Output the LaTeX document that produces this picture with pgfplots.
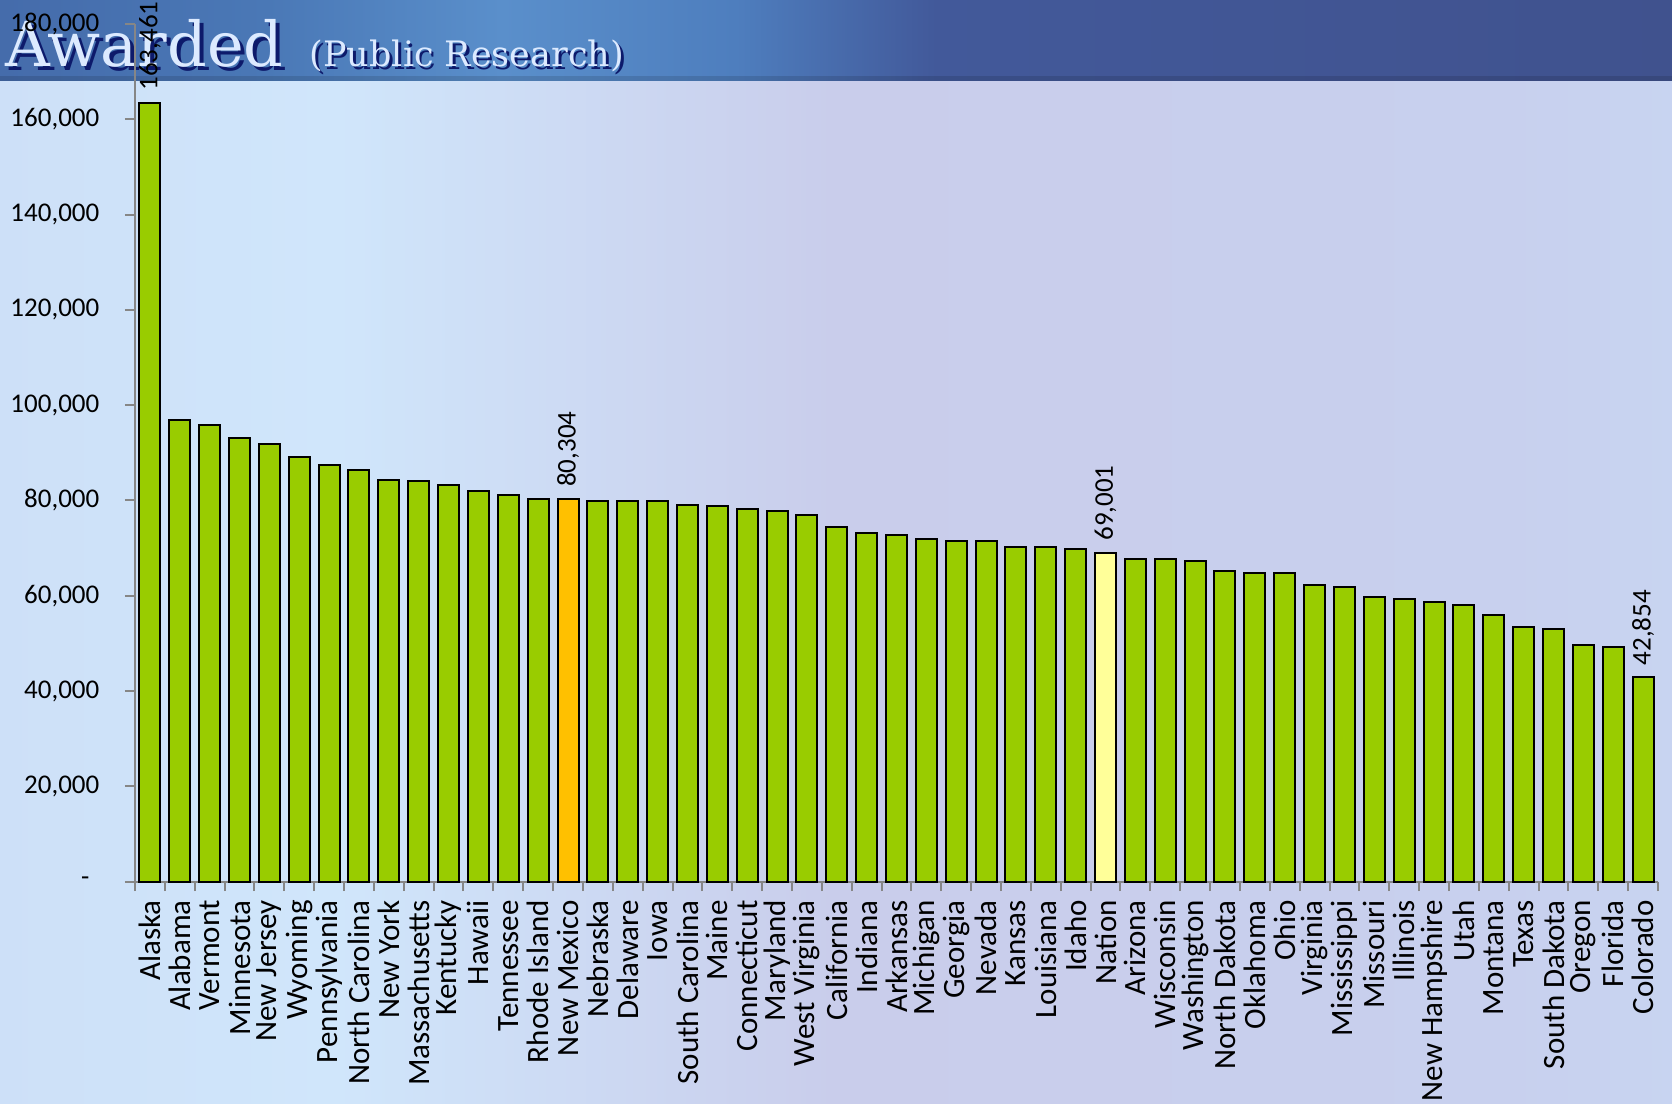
\documentclass[border=0pt]{standalone}
\usepackage{pgfplots}
\pgfplotsset{compat=1.18}
\usepackage{fontspec}
\setmainfont{Carlito}
\newfontfamily\titlefont{DejaVu Serif}
\definecolor{bargreen}{HTML}{99CC00}
\definecolor{barorange}{HTML}{FFC000}
\definecolor{baryellow}{HTML}{FFFF99}
\definecolor{axisgray}{HTML}{868686}
\definecolor{titlefg}{HTML}{DCEAFF}
\definecolor{titleshadow}{HTML}{0D1A6B}
\pgfdeclarehorizontalshading{bannershade}{100bp}{%
  color(0bp)=(rgb,255:red,62;green,88;blue,150);
  color(20bp)=(rgb,255:red,66;green,100;blue,164);
  color(33bp)=(rgb,255:red,74;green,120;blue,182);
  color(40bp)=(rgb,255:red,90;green,143;blue,203);
  color(47bp)=(rgb,255:red,78;green,126;blue,190);
  color(53bp)=(rgb,255:red,66;green,89;blue,154);
  color(75bp)=(rgb,255:red,64;green,82;blue,142);
  color(100bp)=(rgb,255:red,66;green,79;blue,137)}
\pgfdeclarehorizontalshading{bgshade}{100bp}{%
  color(0bp)=(rgb,255:red,199;green,209;blue,238);
  color(20bp)=(rgb,255:red,204;green,221;blue,246);
  color(35bp)=(rgb,255:red,208;green,230;blue,251);
  color(50bp)=(rgb,255:red,201;green,205;blue,235);
  color(70bp)=(rgb,255:red,200;green,208;blue,238);
  color(85bp)=(rgb,255:red,200;green,220;blue,246);
  color(100bp)=(rgb,255:red,197;green,205;blue,238)}
\begin{document}
\begin{tikzpicture}
\useasboundingbox (0,0) rectangle (501.6pt,331.2pt);
\shade[shading=bgshade] (0,0) rectangle (501.6pt,331.2pt);
\shade[shading=bannershade] (0,307pt) rectangle (501.6pt,331.2pt);
\fill[black, opacity=0.12] (0,307pt) rectangle (501.6pt,308.5pt);
\node[anchor=base west, inner sep=0pt, text=titleshadow] at (2.7pt,310.0pt) {\titlefont\fontsize{18.6}{18.6}\selectfont Awarded};
\node[anchor=base west, inner sep=0pt, text=titlefg] at (1.5pt,311.2pt) {\titlefont\fontsize{18.6}{18.6}\selectfont Awarded};
\node[anchor=base west, inner sep=0pt, text=titleshadow] at (93.5pt,310.4pt) {\titlefont\fontsize{10.5}{10.5}\selectfont (Public Research)};
\node[anchor=base west, inner sep=0pt, text=titlefg] at (92.7pt,311.2pt) {\titlefont\fontsize{10.5}{10.5}\selectfont (Public Research)};
\begin{axis}[
  at={(40.5pt,66.69pt)}, anchor=south west,
  scale only axis, width=456.9pt, height=257.3pt,
  xmin=-0.5, xmax=50.5, ymin=0, ymax=180000,
  clip=false,
  axis lines*=left,
  axis line style={draw=axisgray, line width=0.6pt},
  tick align=outside,
  xtick pos=left, ytick pos=left,
  ytick={0,20000,40000,60000,80000,100000,120000,140000,160000,180000},
  yticklabels={{-\hspace*{3pt}},{20,000},{40,000},{60,000},{80,000},{100,000},{120,000},{140,000},{160,000},{180,000}},
  yticklabel style={font=\fontsize{8.1}{8.1}\selectfont, anchor=east, inner sep=0pt, inner xsep=7.5pt},
  xtick={0,...,50},
  xticklabels={Alaska,Alabama,Vermont,Minnesota,New Jersey,Wyoming,Pennsylvania,North Carolina,New York,Massachusetts,Kentucky,Hawaii,Tennessee,Rhode Island,New Mexico,Nebraska,Delaware,Iowa,South Carolina,Maine,Connecticut,Maryland,West Virginia,California,Indiana,Arkansas,Michigan,Georgia,Nevada,Kansas,Louisiana,Idaho,Nation,Arizona,Wisconsin,Washington,North Dakota,Oklahoma,Ohio,Virginia,Mississippi,Missouri,Illinois,New Hampshire,Utah,Montana,Texas,South Dakota,Oregon,Florida,Colorado},
  xticklabel style={font=\fontsize{9.3}{9.3}\selectfont, rotate=90, anchor=east, inner sep=0pt, inner xsep=2.4pt},
  major x tick style={draw=none},
  minor xtick={-0.5,0.5,...,50.5},
  minor x tick style={draw=axisgray, line width=0.6pt},
  major y tick style={draw=axisgray, line width=0.6pt},
  major tick length=3pt, minor tick length=2.8pt,
]
\addplot[ybar, bar width=6.3pt, fill=bargreen, draw=black, line width=0.6pt] coordinates {
 (0,163461) (1,96900) (2,95800) (3,93200) (4,91900) (5,89100) (6,87400) (7,86500)
 (8,84400) (9,84000) (10,83200) (11,81900) (12,81100) (13,80400)
 (15,79900) (16,79900) (17,79800) (18,79000) (19,78900) (20,78200) (21,77800)
 (22,77000) (23,74400) (24,73200) (25,72800) (26,71900) (27,71500) (28,71500)
 (29,70300) (30,70200) (31,69800)
 (33,67700) (34,67700) (35,67200) (36,65100) (37,64700) (38,64700) (39,62300)
 (40,61800) (41,59700) (42,59300) (43,58800) (44,58100) (45,56000) (46,53400)
 (47,53000) (48,49600) (49,49200) (50,42854)
};
\addplot[ybar, bar width=6.3pt, fill=barorange, draw=black, line width=0.6pt] coordinates {(14,80304)};
\addplot[ybar, bar width=6.3pt, fill=baryellow, draw=black, line width=0.6pt] coordinates {(32,69001)};
\addplot[draw=none, mark=none, nodes near coords, point meta=explicit symbolic,
  nodes near coords style={rotate=90, anchor=west, inner sep=0pt, inner xsep=3.5pt, font=\fontsize{8.1}{8.1}\selectfont, text=black}]
  coordinates {(0,163461) [163,461] (14,80304) [80,304] (32,69001) [69,001] (50,42854) [42,854]};
\end{axis}
\end{tikzpicture}
\end{document}
